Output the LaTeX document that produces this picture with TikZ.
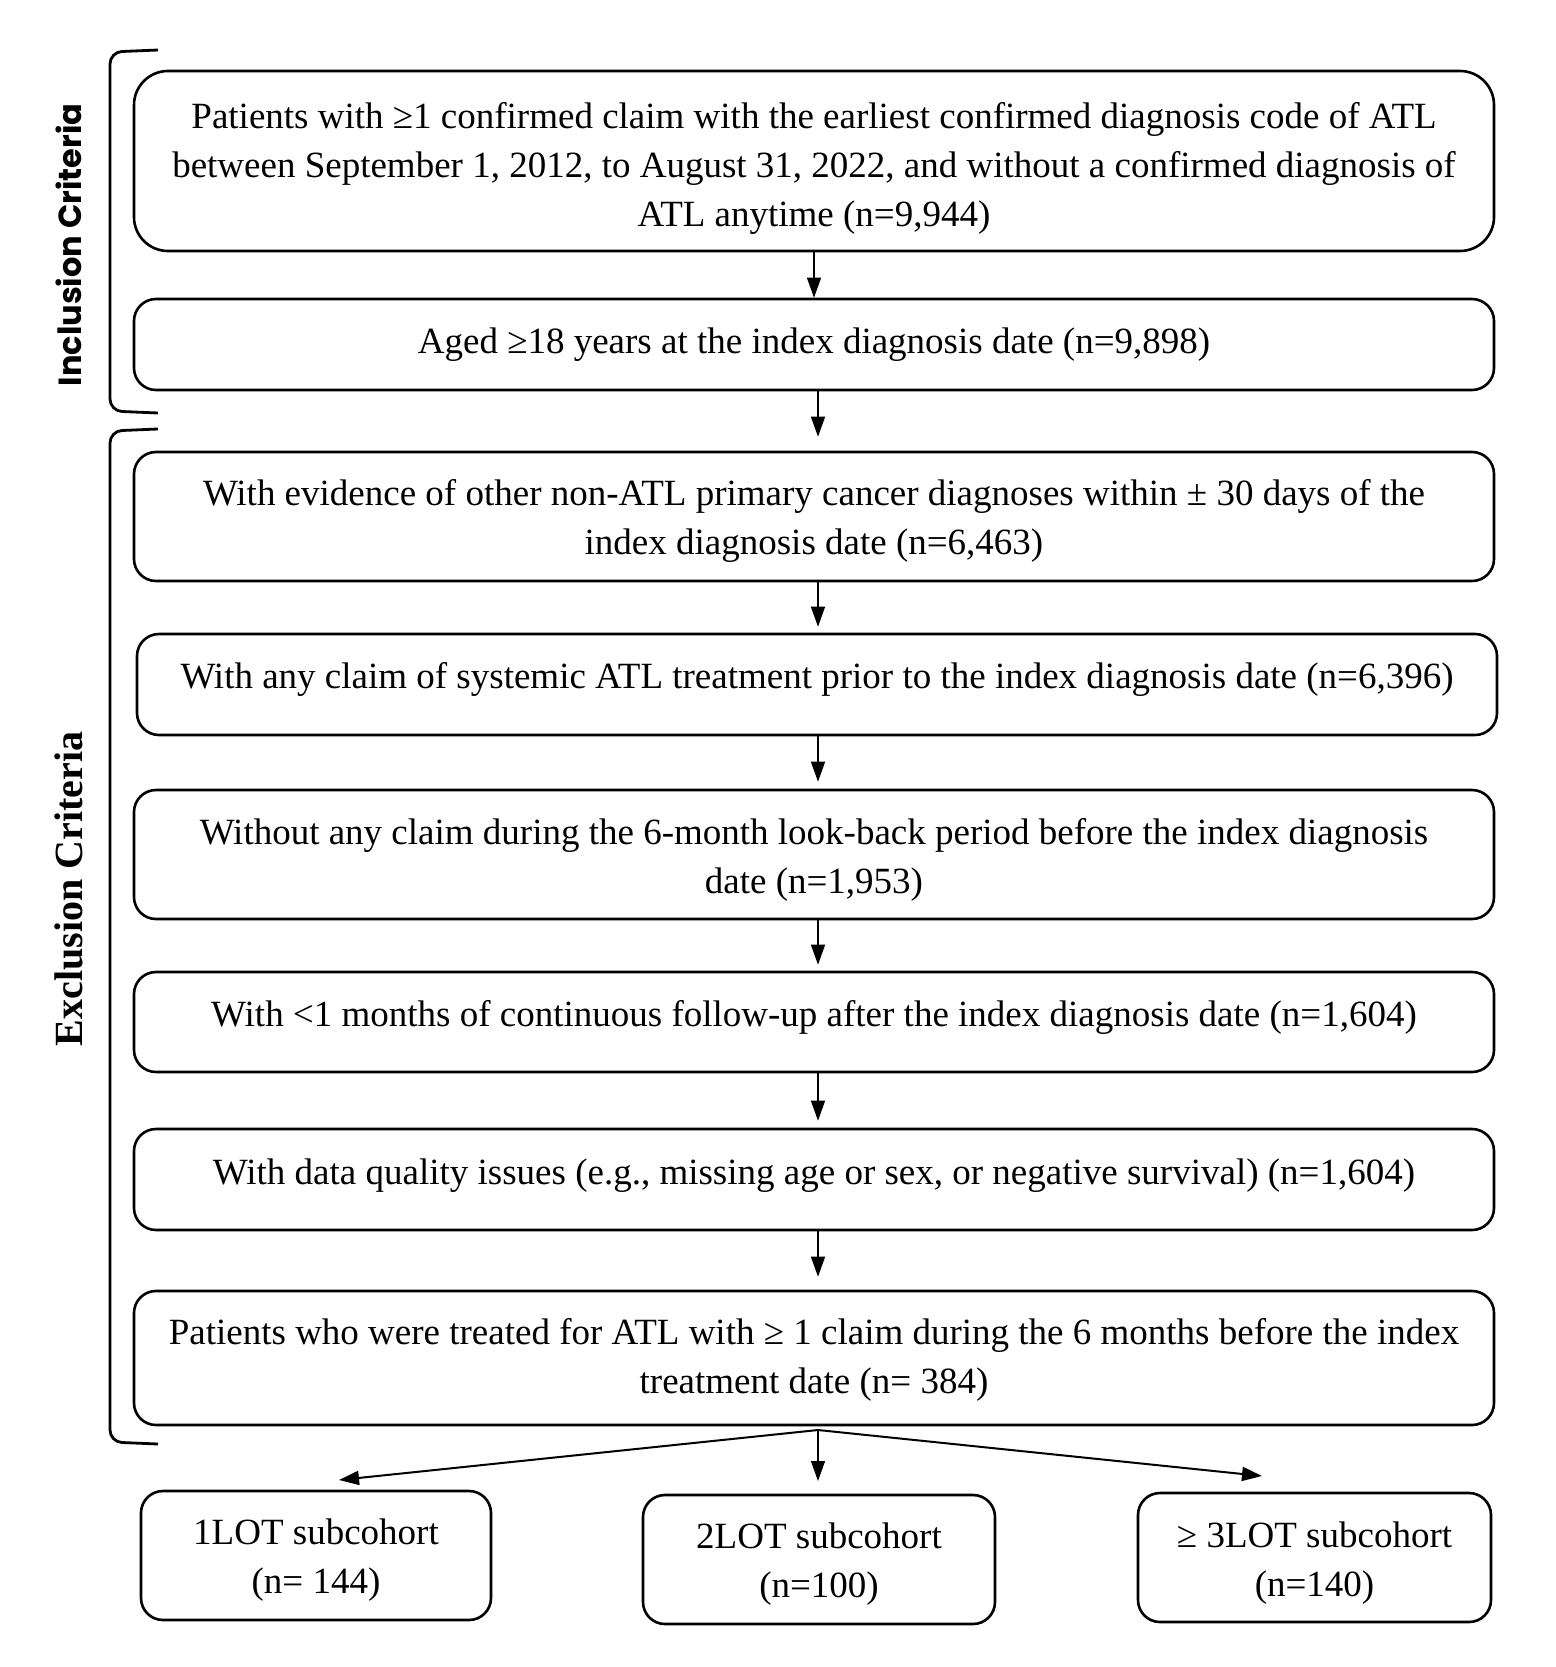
\documentclass[tikz,border=0pt]{standalone}
\usepackage{fontspec}
\setmainfont{Liberation Serif}
\newfontfamily\labsans{Poppins}
\usetikzlibrary{arrows.meta,calc}
\begin{document}
\begin{tikzpicture}[x=1pt,y=-1pt,
  box/.style={draw, line width=2.6pt, rounded corners=22pt, inner sep=0pt},
  txt/.style={align=center, inner sep=0pt, font=\fontsize{37}{49}\selectfont},
  arr/.style={line width=1.4pt, -{Triangle[length=20pt,width=14pt]}},
  brk/.style={line width=2.8pt, rounded corners=12pt},
  split/.style={line width=2pt, -{Triangle[length=20pt,width=14pt]}}
]
\useasboundingbox (0,0) rectangle (1555,1667);

% brackets
\draw[brk] (158,50) -- (110,52) -- (110,411) -- (158,413);
\draw[brk] (158,429) -- (110,431) -- (110,1442) -- (158,1444);
\node[rotate=90, font=\labsans\bfseries\fontsize{32}{38}\selectfont] (inc) at (69,245) {Inclusion Criteria};
\node[rotate=90, font=\bfseries\fontsize{40}{46}\selectfont] (exc) at (69,889) {Exclusion Criteria};

% main boxes
\node[box, rounded corners=34pt, minimum width=1360pt, minimum height=180pt] (b1) at (814,161) {};
\node[txt] (b1t) at ([yshift=-7pt]b1.center)
 {Patients with ≥1 confirmed claim with the earliest confirmed diagnosis code of ATL\\
  between September 1, 2012, to August 31, 2022, and without a confirmed diagnosis of\\
  ATL anytime (n=9,944)};
\node[box, minimum width=1360pt, minimum height=91pt] (b2) at (814,344.5) {};
\node[txt] (b2t) at (b2.center) {Aged ≥18 years at the index diagnosis date (n=9,898)};
\node[box, minimum width=1360pt, minimum height=129pt] (b3) at (814,516.5) {};
\node[txt] (b3t) at ([yshift=-4pt]b3.center)
 {With evidence of other non-ATL primary cancer diagnoses within ± 30 days of the\\
  index diagnosis date (n=6,463)};
\node[box, minimum width=1360pt, minimum height=101pt] (b4) at (817,684.5) {};
\node[txt] (b4t) at ([yshift=5pt]b4.center)
 {With any claim of systemic ATL treatment prior to the index diagnosis date (n=6,396)};
\node[box, minimum width=1360pt, minimum height=129pt] (b5) at (814,854.5) {};
\node[txt] (b5t) at ([yshift=-5pt]b5.center)
 {Without any claim during the 6-month look-back period before the index diagnosis\\
  date (n=1,953)};
\node[box, minimum width=1360pt, minimum height=100pt] (b6) at (814,1022) {};
\node[txt] (b6t) at ([yshift=5pt]b6.center)
 {With <1 months of continuous follow-up after the index diagnosis date (n=1,604)};
\node[box, minimum width=1360pt, minimum height=101pt] (b7) at (814,1179.5) {};
\node[txt] (b7t) at ([yshift=4pt]b7.center)
 {With data quality issues (e.g., missing age or sex, or negative survival) (n=1,604)};
\node[box, minimum width=1360pt, minimum height=134pt] (b8) at (814,1358) {};
\node[txt] (b8t) at ([yshift=-2pt]b8.center)
 {Patients who were treated for ATL with ≥ 1 claim during the 6 months before the index\\
  treatment date (n= 384)};

% subcohorts
\node[box, minimum width=350pt, minimum height=129pt] (l1) at (316,1555.5) {};
\node[txt] (l1t) at ([yshift=-5pt]l1.center) {1LOT subcohort\\(n= 144)};
\node[box, minimum width=352pt, minimum height=129pt] (l2) at (819,1559.5) {};
\node[txt] (l2t) at ([yshift=-5pt]l2.center) {2LOT subcohort\\(n=100)};
\node[box, minimum width=353pt, minimum height=129pt] (l3) at (1314.5,1557.5) {};
\node[txt] (l3t) at ([yshift=-6pt]l3.center) {≥ 3LOT subcohort\\(n=140)};

% arrows
\draw[arr] (b1.south) -- (b2.north);
\draw[arr] ([xshift=4pt]b2.south) -- ([xshift=4pt,yshift=14pt]b3.north);
\draw[arr] ([xshift=4pt]b3.south) -- ([xshift=1pt,yshift=6pt]b4.north);
\draw[arr] ([xshift=1pt]b4.south) -- ([xshift=4pt,yshift=7pt]b5.north);
\draw[arr] ([xshift=4pt]b5.south) -- ([xshift=4pt,yshift=6pt]b6.north);
\draw[arr] ([xshift=4pt]b6.south) -- ([xshift=4pt,yshift=7pt]b7.north);
\draw[arr] ([xshift=4pt]b7.south) -- ([xshift=4pt,yshift=13pt]b8.north);

\coordinate (sp) at (818,1430);
\coordinate (t1) at (339,1480);
\coordinate (t2) at (818,1481);
\coordinate (t3) at (1262,1476);
\draw[split] (sp) -- (t1);
\draw[arr] (sp) -- (t2);
\draw[split] (sp) -- (t3);
\end{tikzpicture}
\end{document}
